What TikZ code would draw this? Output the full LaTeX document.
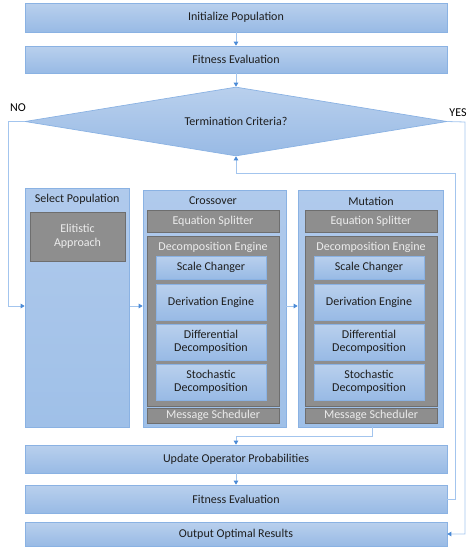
\documentclass[tikz,border=0pt]{standalone}
\usepackage{fontspec}
\setmainfont{Carlito}
\usetikzlibrary{arrows.meta,shapes.geometric}
\definecolor{btop}{HTML}{B9D0ED}
\definecolor{bbot}{HTML}{98BAE5}
\definecolor{bdr}{HTML}{8AB2E3}
\definecolor{ctop}{HTML}{B0CAEC}
\definecolor{cbot}{HTML}{9FC0E8}
\definecolor{gfill}{HTML}{8E8E8E}
\definecolor{gdr}{HTML}{6E6E6E}
\definecolor{gtxt}{HTML}{ECECEC}
\definecolor{txt}{HTML}{1E1E1E}
\definecolor{lnc}{HTML}{A3C5EE}
\definecolor{tipc}{HTML}{4A8AD6}
\newcommand{\myfs}{\fontsize{12}{13.5}\selectfont}
\tikzset{
  bbox/.style={draw=bdr, top color=btop, bottom color=bbot, line width=0.7pt, text=txt, font=\myfs, inner sep=0pt, align=center},
  cbox/.style={draw=bdr, top color=ctop, bottom color=cbot, line width=0.7pt, inner sep=0pt},
  gbox/.style={draw=gdr, fill=gfill, line width=0.7pt, text=gtxt, font=\myfs, inner sep=0pt, align=center},
  ttl/.style={text=txt, font=\myfs, inner sep=0pt},
  gttl/.style={text=gtxt, font=\myfs, inner sep=0pt},
  arr/.style={draw=lnc, line width=0.8pt, -{Triangle[width=4.5pt,length=4pt,color=tipc]}},
  lbl/.style={text=black, font=\myfs, inner sep=0pt}
}
\begin{document}
\begin{tikzpicture}[x=1pt,y=-1pt]
\useasboundingbox (0,0) rectangle (472,550);
% top
\node[bbox, minimum width=422pt, minimum height=29pt] (init) at (236,17.5) {Initialize Population};
\node[bbox, minimum width=422pt, minimum height=27pt] (fe1) at (236,59.5) {Fitness Evaluation};
\node[bbox, shape=diamond, minimum width=422pt, minimum height=69pt, shape aspect=6] (dia) at (236,121.5) {Termination Criteria?};
\node[lbl] (no) at (18,108) {NO};
\node[lbl] (yes) at (458,113) {YES};
% select population
\node[cbox, minimum width=104.5pt, minimum height=239pt] (sel) at (77.25,307.5) {};
\node[ttl] (selt) at (77.25,199.5) {Select Population};
\node[gbox, minimum width=95pt, minimum height=49pt] (elit) at (77.5,236.5) {Elitistic\\Approach};
% crossover
\node[cbox, minimum width=143pt, minimum height=237pt] (cross) at (214.5,308.5) {};
\node[ttl] (crosst) at (213,201) {Crossover};
\node[gbox, minimum width=132pt, minimum height=22pt] (eqs1) at (213,221) {Equation Splitter};
\node[gbox, minimum width=132pt, minimum height=170pt] (dec1) at (213,321) {};
\node[gttl] (dec1t) at (213,247) {Decomposition Engine};
\node[bbox, minimum width=110pt, minimum height=23pt] (sc1) at (211,267.5) {Scale Changer};
\node[bbox, minimum width=110pt, minimum height=36pt] (de1) at (211,302) {Derivation Engine};
\node[bbox, minimum width=110pt, minimum height=36pt] (df1) at (211,342) {Differential\\Decomposition};
\node[bbox, minimum width=110pt, minimum height=36pt] (st1) at (211,382) {Stochastic\\Decomposition};
\node[gbox, minimum width=132pt, minimum height=15pt] (ms1) at (213,415.5) {Message Scheduler};
% mutation
\node[cbox, minimum width=145pt, minimum height=237pt] (mut) at (370.5,308.5) {};
\node[ttl] (mutt) at (371,201) {Mutation};
\node[gbox, minimum width=132pt, minimum height=22pt] (eqs2) at (371,221) {Equation Splitter};
\node[gbox, minimum width=132pt, minimum height=170pt] (dec2) at (371,321) {};
\node[gttl] (dec2t) at (371,247) {Decomposition Engine};
\node[bbox, minimum width=110pt, minimum height=23pt] (sc2) at (369,267.5) {Scale Changer};
\node[bbox, minimum width=110pt, minimum height=36pt] (de2) at (369,302) {Derivation Engine};
\node[bbox, minimum width=110pt, minimum height=36pt] (df2) at (369,342) {Differential\\Decomposition};
\node[bbox, minimum width=110pt, minimum height=36pt] (st2) at (369,382) {Stochastic\\Decomposition};
\node[gbox, minimum width=132pt, minimum height=15pt] (ms2) at (371,415.5) {Message Scheduler};
% bottom
\node[bbox, minimum width=422pt, minimum height=28pt] (upd) at (236,459) {Update Operator Probabilities};
\node[bbox, minimum width=422pt, minimum height=28pt] (fe2) at (236,499) {Fitness Evaluation};
\node[bbox, minimum width=422pt, minimum height=24pt] (out) at (236,534) {Output Optimal Results};
% coordinates
\coordinate (nL) at (8,306);
\coordinate (yR) at (465,122);
\coordinate (fR) at (455,173);
\coordinate (mB) at (372,436);
% connectors
\draw[arr] (init.south) -- (fe1.north);
\draw[arr] (fe1.south) -- (dia.north);
\draw[arr] (dia.west) -| (nL) -- (sel.west |- nL);
\draw[arr] (sel.east |- nL) -- (cross.west |- nL);
\draw[arr] (cross.east |- nL) -- (mut.west |- nL);
\draw[arr] (mut.south -| mB) -- (mB) -| (upd.north);
\draw[arr] (upd.south) -- (fe2.north);
\draw[arr] (fe2.east) -| (fR) -| (dia.south);
\draw[arr] (dia.east) -- (yR) |- (out.east);
\end{tikzpicture}
\end{document}
